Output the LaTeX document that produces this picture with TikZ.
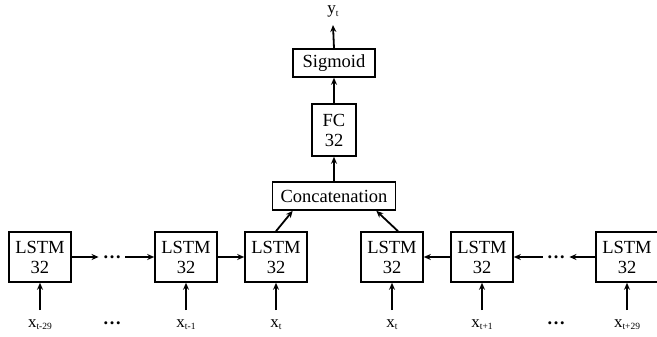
\documentclass[tikz,border=0pt]{standalone}
\usepackage{fontspec}
\setmainfont{Liberation Serif}
\usetikzlibrary{arrows.meta}
\newcommand{\sublbl}[2]{{\fontsize{17}{17}\selectfont #1}\raisebox{-2.5pt}{\fontsize{9.5}{9.5}\selectfont #2}}
\begin{document}
\begin{tikzpicture}[x=1pt,y=-1pt,
  blk/.style={draw, line width=1.6pt, inner sep=0pt, align=center,
    font=\fontsize{18.5}{20}\selectfont},
  lstm/.style={blk, minimum width=62pt, minimum height=50pt},
  lbl/.style={inner sep=0pt, anchor=base},
  dotsnode/.style={inner sep=0pt, font=\fontsize{18.5}{20}\selectfont\bfseries},
  arr/.style={-{Stealth[length=7pt,width=6pt]}, line width=1.8pt}]
  \useasboundingbox (0,0) rectangle (657,337);

  % forward and backward LSTM chains
  \node[lstm] (l1) at (40,257) {LSTM\\32};
  \node[lstm] (l2) at (186,257) {LSTM\\32};
  \node[lstm] (l3) at (276,257) {LSTM\\32};
  \node[lstm] (r1) at (392,257) {LSTM\\32};
  \node[lstm] (r2) at (482,257) {LSTM\\32};
  \node[lstm] (r3) at (627,257) {LSTM\\32};

  % ellipses between the chain cells
  \node[dotsnode] (d1) at (112,257) {\ldots};
  \node[dotsnode] (d2) at (556,257) {\ldots};

  % upper layers
  \node[blk, minimum width=123pt, minimum height=28pt] (cat) at (334,196) {Concatenation};
  \node[blk, minimum width=44pt, minimum height=52pt] (fc) at (334,130) {FC\\32};
  \node[blk, minimum width=82pt, minimum height=28pt] (sig) at (334,63) {Sigmoid};
  \node[lbl] (y) at (333,14) {\sublbl{y}{t}};

  % inputs
  \node[lbl] (x1) at (40,327) {\sublbl{x}{t-29}};
  \node[dotsnode] (xd1) at (112,323) {\ldots};
  \node[lbl] (x2) at (186,327) {\sublbl{x}{t-1}};
  \node[lbl] (x3) at (276,327) {\sublbl{x}{t}};
  \node[lbl] (x4) at (392,327) {\sublbl{x}{t}};
  \node[lbl] (x5) at (482,327) {\sublbl{x}{t+1}};
  \node[dotsnode] (xd2) at (556,323) {\ldots};
  \node[lbl] (x6) at (627,327) {\sublbl{x}{t+29}};

  \foreach \a/\b in {x1/l1, x2/l2, x3/l3, x4/r1, x5/r2, x6/r3}
    \draw[arr] (\a.base |- 0,310) -- (\b.south);

  % recurrent connections
  \draw[arr] (l1.east) -- ([xshift=-4pt]d1.west);
  \draw[arr] ([xshift=4pt]d1.east) -- (l2.west);
  \draw[arr] (l2.east) -- (l3.west);
  \draw[arr] (r2.west) -- (r1.east);
  \draw[arr] ([xshift=-4pt]d2.west) -- (r2.east);
  \draw[arr] (r3.west) -- ([xshift=4pt]d2.east);

  % merge and output
  \draw[arr] (l3.north) -- ([xshift=21pt]cat.south west);
  \draw[arr] ([xshift=6pt]r1.north) -- ([xshift=-20pt]cat.south east);
  \draw[arr] (cat.north) -- (fc.south);
  \draw[arr] (fc.north) -- (sig.south);
  \draw[arr] (sig.north) -- ([yshift=-11pt]y.base);
\end{tikzpicture}
\end{document}
